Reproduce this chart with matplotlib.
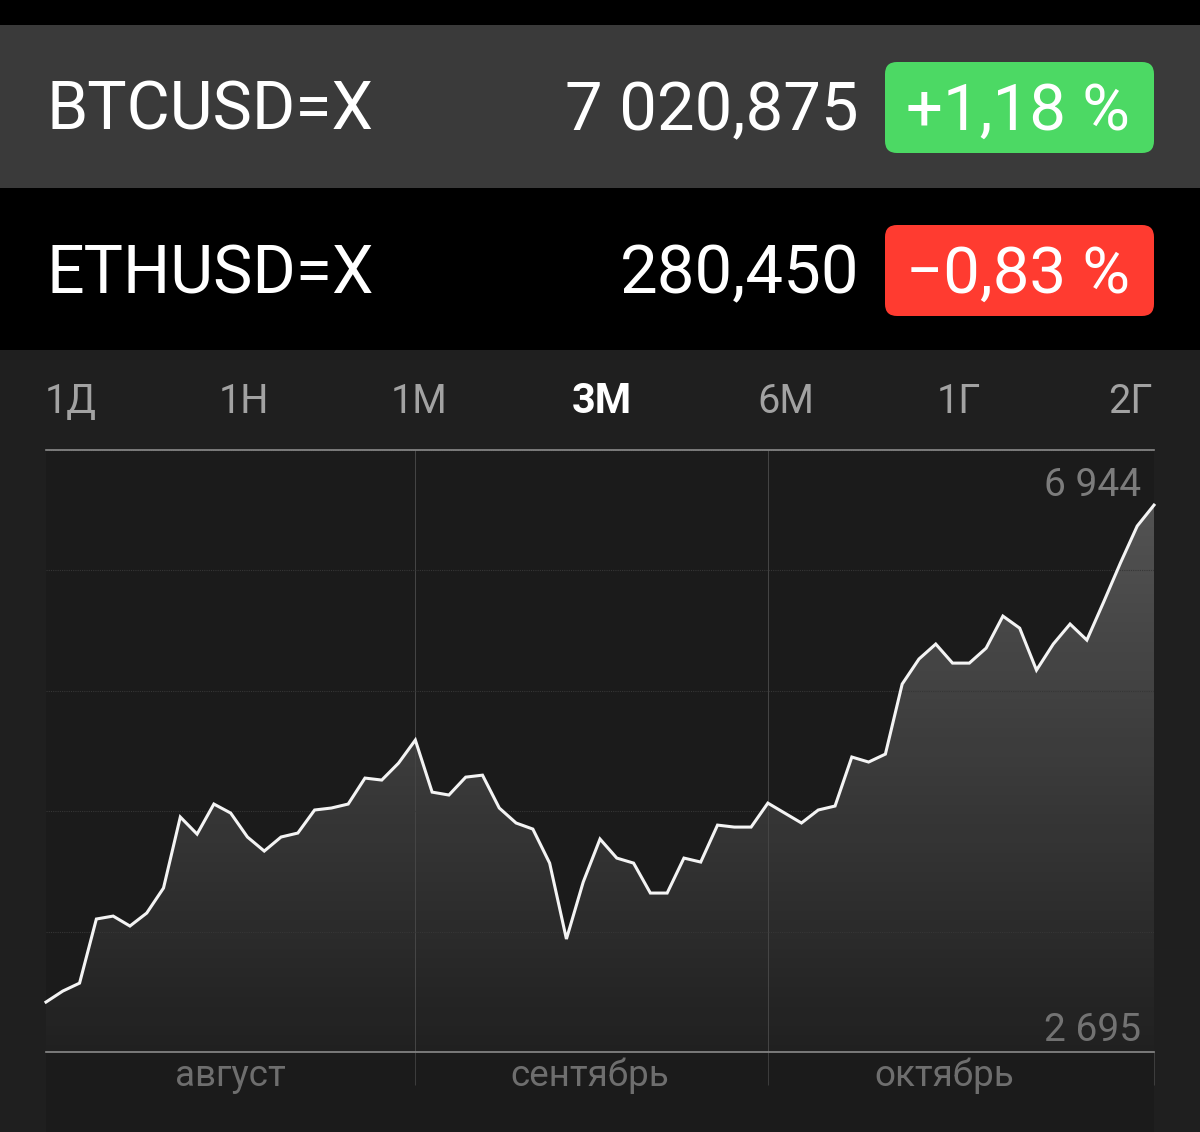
import numpy as np
import matplotlib
matplotlib.use('Agg')
import matplotlib.pyplot as plt
from matplotlib.patches import Rectangle, FancyBboxPatch, Polygon

plt.rcParams['font.family'] = ['Roboto', 'DejaVu Sans']

# quotes at the top of the screen
tickers = ['BTCUSD=X', 'ETHUSD=X']
prices = ['7 020,875', '280,450']
changes = ['+1,18 %', '\u22120,83 %']
change_colors = ['#4cd964', '#ff3b30']

# range selector
ranges = ['1Д', '1Н', '1М', '3М', '6М', '1Г', '2Г']
active_range = '3М'

# chart data, price per point
prices_3m = [2695, 2789, 2857, 3405, 3430, 3345, 3456, 3670, 4277, 4131, 4388,
             4311, 4106, 3986, 4106, 4140, 4337, 4354, 4388, 4610, 4593, 4738,
             4935, 4490, 4465, 4618, 4635, 4354, 4226, 4174, 3883, 3234, 3721,
             4089, 3926, 3883, 3627, 3627, 3926, 3892, 4208, 4191, 4191, 4396,
             4311, 4226, 4337, 4371, 4790, 4747, 4815, 5414, 5628, 5756, 5593,
             5593, 5721, 5995, 5892, 5533, 5756, 5927, 5790, 6115, 6449, 6765,
             6944]
month_names = ['август', 'сентябрь', 'октябрь']
month_edges = [22, 43, 66]
month_centers = [11, 32.4, 53.5]
y_bottom = 2268
y_top = 7415
max_label = '6 944'
min_label = '2 695'

W, H = 1200, 1132
fig = plt.figure(figsize=(W / 100, H / 100), dpi=100, facecolor='black')

# background layer, in screen pixels
bg = fig.add_axes([0, 0, 1, 1])
bg.set_xlim(0, W)
bg.set_ylim(H, 0)
bg.axis('off')
bg.add_patch(Rectangle((0, 25), W, 163, color='#3a3a3a', lw=0))
bg.add_patch(Rectangle((0, 350), W, H - 350, color='#1f1f1f', lw=0))
bg.add_patch(Rectangle((46, 450), 1108, H - 450, color='#1b1b1b', lw=0))

for i in range(2):
    base = 130 + i * 163
    bg.text(46, base, tickers[i], color='white', fontsize=47.6, va='baseline')
    bg.text(859, base, prices[i], color='white', fontsize=48.3, va='baseline', ha='right')
    bg.add_patch(FancyBboxPatch((895, 72 + i * 163), 249, 71,
                                boxstyle='round,pad=10,rounding_size=12',
                                fc=change_colors[i], ec='none'))
    bg.text(1130, base, changes[i], color='white', fontsize=47, va='baseline', ha='right')

range_x = [71, 244, 419, 602, 786, 959, 1130]
for x, label in zip(range_x, ranges):
    on = label == active_range
    bg.text(x, 413, label, color='white' if on else '#a2a2a2', fontsize=30 if on else 28.5,
            ha='center', va='baseline', fontweight='bold' if on else 'normal')

# chart
ax = fig.add_axes([46 / W, 1 - 1052 / H, 1108 / W, 602 / H], facecolor='none')
days = np.arange(len(prices_3m))
ax.set_xlim(0, len(prices_3m) - 1)
ax.set_ylim(y_bottom, y_top)

# fill under the line, fades out towards the bottom
fade = np.zeros((256, 2, 4))
fade[..., :3] = 1.0
fade[..., 3] = np.linspace(0.27, 0.025, 256)[:, None]
img = ax.imshow(fade, extent=[0, len(prices_3m) - 1, y_bottom, y_top], aspect='auto',
                origin='upper', zorder=1)
verts = list(zip(days, prices_3m)) + [(days[-1], y_bottom), (0, y_bottom)]
clip = Polygon(verts, transform=ax.transData, fc='none', ec='none')
ax.add_patch(clip)
img.set_clip_path(clip)

ax.plot(days, prices_3m, color='#f4f4f4', lw=2.2, solid_joinstyle='miter', zorder=3, clip_on=False)

ax.set_yticks(np.linspace(y_bottom, y_top, 6))
ax.set_xticks(month_edges)
ax.set_xticklabels([])
ax.set_yticklabels([])
ax.tick_params(axis='y', length=0)
ax.tick_params(axis='x', length=24, width=0.7, color='#3e3e3e')
ax.grid(axis='y', color='#363636', lw=0.8, ls=(0, (1, 1)), zorder=2)
ax.grid(axis='x', color='#464646', lw=0.7, zorder=2)
for side in ['left', 'right']:
    ax.spines[side].set_visible(False)
ax.spines['top'].set_color('#8a8a8a')
ax.spines['bottom'].set_color('#8a8a8a')
ax.spines['top'].set_linewidth(1.2)
ax.spines['bottom'].set_linewidth(1.2)

trans = ax.get_xaxis_transform()
for x, name in zip(month_centers, month_names):
    ax.annotate(name, xy=(x, 0), xycoords=trans, xytext=(0, -34), textcoords='offset pixels',
                color='#6e6e6e', fontsize=26.5, ha='center', va='baseline')

bg.text(1141, 496, max_label, color='#7c7c7c', fontsize=28, ha='right', va='baseline')
bg.text(1141, 1041, min_label, color='#6e6e6e', fontsize=28, ha='right', va='baseline')

fig.savefig('out.png', dpi=100, facecolor=fig.get_facecolor())
